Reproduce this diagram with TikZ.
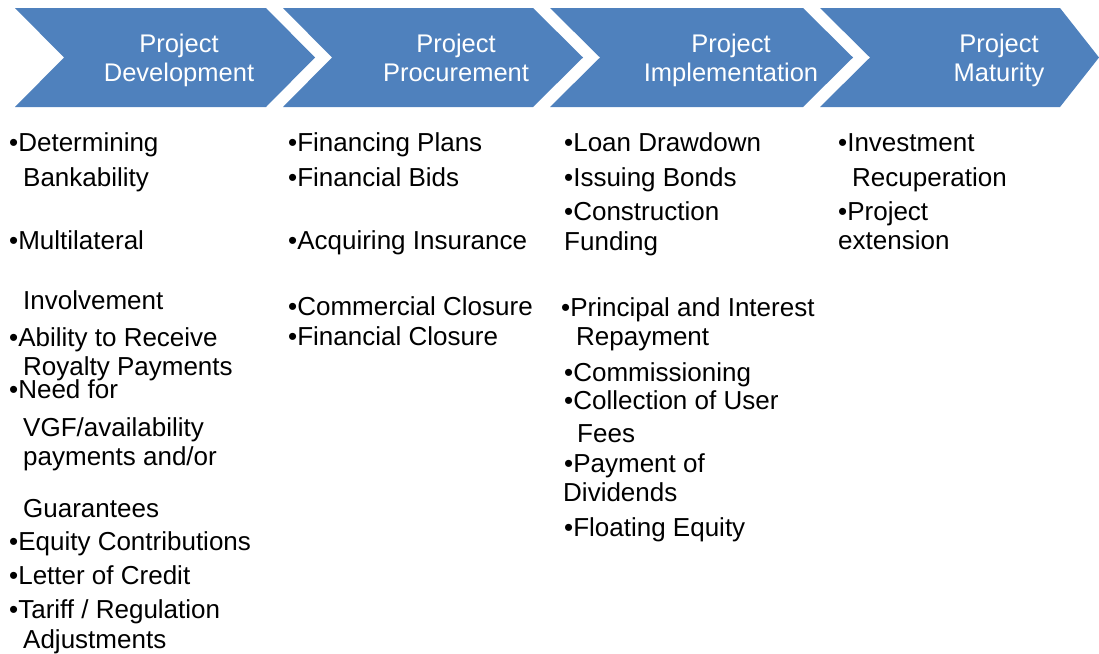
\documentclass[tikz,border=0pt]{standalone}
\usepackage{fontspec}
\setmainfont{Liberation Sans}
\definecolor{chevblue}{HTML}{4F81BD}

\begin{document}
\begin{tikzpicture}[x = 1pt, y = -1pt,
                    chev/.style = {fill = chevblue},
                    head/.style = {align = center, text = white, font = \fontsize{25.5}{29}\selectfont},
                    item/.style = {anchor = west, inner sep = 0pt, text height = 18.6pt, text depth = 0pt, font = \fontsize{26}{31}\selectfont}]
                    \useasboundingbox (0, 0) rectangle (1099, 653);

                    % the four phases
                    \fill[chev] ( 15, 8) -- ( 266, 8) -- ( 315, 57.5) -- ( 266, 107) -- ( 15, 107) -- ( 64, 57.5) -- cycle;
                    \fill[chev] (283, 8) -- ( 533, 8) -- ( 583, 57.5) -- ( 533, 107) -- (283, 107) -- (332, 57.5) -- cycle;
                    \fill[chev] (550, 8) -- ( 803, 8) -- ( 853, 57.5) -- ( 803, 107) -- (550, 107) -- (600, 57.5) -- cycle;
                    \fill[chev] (820, 8) -- (1060, 8) -- (1099, 57.5) -- (1060, 107) -- (820, 107) -- (870, 57.5) -- cycle;

                    \node[head] (dev)  at (179, 62) {Project\\Development\strut};
                    \node[head] (proc) at (456, 62) {Project\\Procurement\strut};
                    \node[head] (impl) at (731, 62) {Project\\Implementation\strut};
                    \node[head] (mat)  at (999, 62) {Project\\Maturity\strut};

                    % development
                    \node[item] (d1)  at (  9, 142) {•Determining};
                    \node[item] (d2)  at ( 23, 177) {Bankability};
                    \node[item] (d3)  at (  9, 240) {•Multilateral};
                    \node[item] (d4)  at ( 23, 300) {Involvement};
                    \node[item] (d5)  at (  9, 337) {•Ability to Receive};
                    \node[item] (d6)  at ( 23, 366) {Royalty Payments};
                    \node[item] (d7)  at (  9, 389) {•Need for};
                    \node[item] (d8)  at ( 23, 427) {VGF/availability};
                    \node[item] (d9)  at ( 23, 456) {payments and/or};
                    \node[item] (d10) at ( 23, 508) {Guarantees};
                    \node[item] (d11) at (  9, 541) {•Equity Contributions};
                    \node[item] (d12) at (  9, 575) {•Letter of Credit};
                    \node[item] (d13) at (  9, 609) {•Tariff / Regulation};
                    \node[item] (d14) at ( 23, 639) {Adjustments};

                    % procurement
                    \node[item] (p1) at (288, 142) {•Financing Plans};
                    \node[item] (p2) at (288, 177) {•Financial Bids};
                    \node[item] (p3) at (288, 240) {•Acquiring Insurance};
                    \node[item] (p4) at (288, 306) {•Commercial Closure};
                    \node[item] (p5) at (288, 336) {•Financial Closure};

                    % implementation
                    \node[item] (i1)  at (564, 142) {•Loan Drawdown};
                    \node[item] (i2)  at (564, 177) {•Issuing Bonds};
                    \node[item] (i3)  at (564, 211) {•Construction};
                    \node[item] (i4)  at (564, 241) {Funding};
                    \node[item] (i5)  at (561, 307) {•Principal and Interest};
                    \node[item] (i6)  at (576, 336) {Repayment};
                    \node[item] (i7)  at (564, 372) {•Commissioning};
                    \node[item] (i8)  at (564, 400) {•Collection of User};
                    \node[item] (i9)  at (577, 433) {Fees};
                    \node[item] (i10) at (564, 463) {•Payment of};
                    \node[item] (i11) at (563, 492) {Dividends};
                    \node[item] (i12) at (564, 527) {•Floating Equity};

                    % maturity
                    \node[item] (m1) at (838, 142) {•Investment};
                    \node[item] (m2) at (852, 177) {Recuperation};
                    \node[item] (m3) at (838, 211) {•Project};
                    \node[item] (m4) at (838, 240) {extension};
                \end{tikzpicture}
\end{document}
